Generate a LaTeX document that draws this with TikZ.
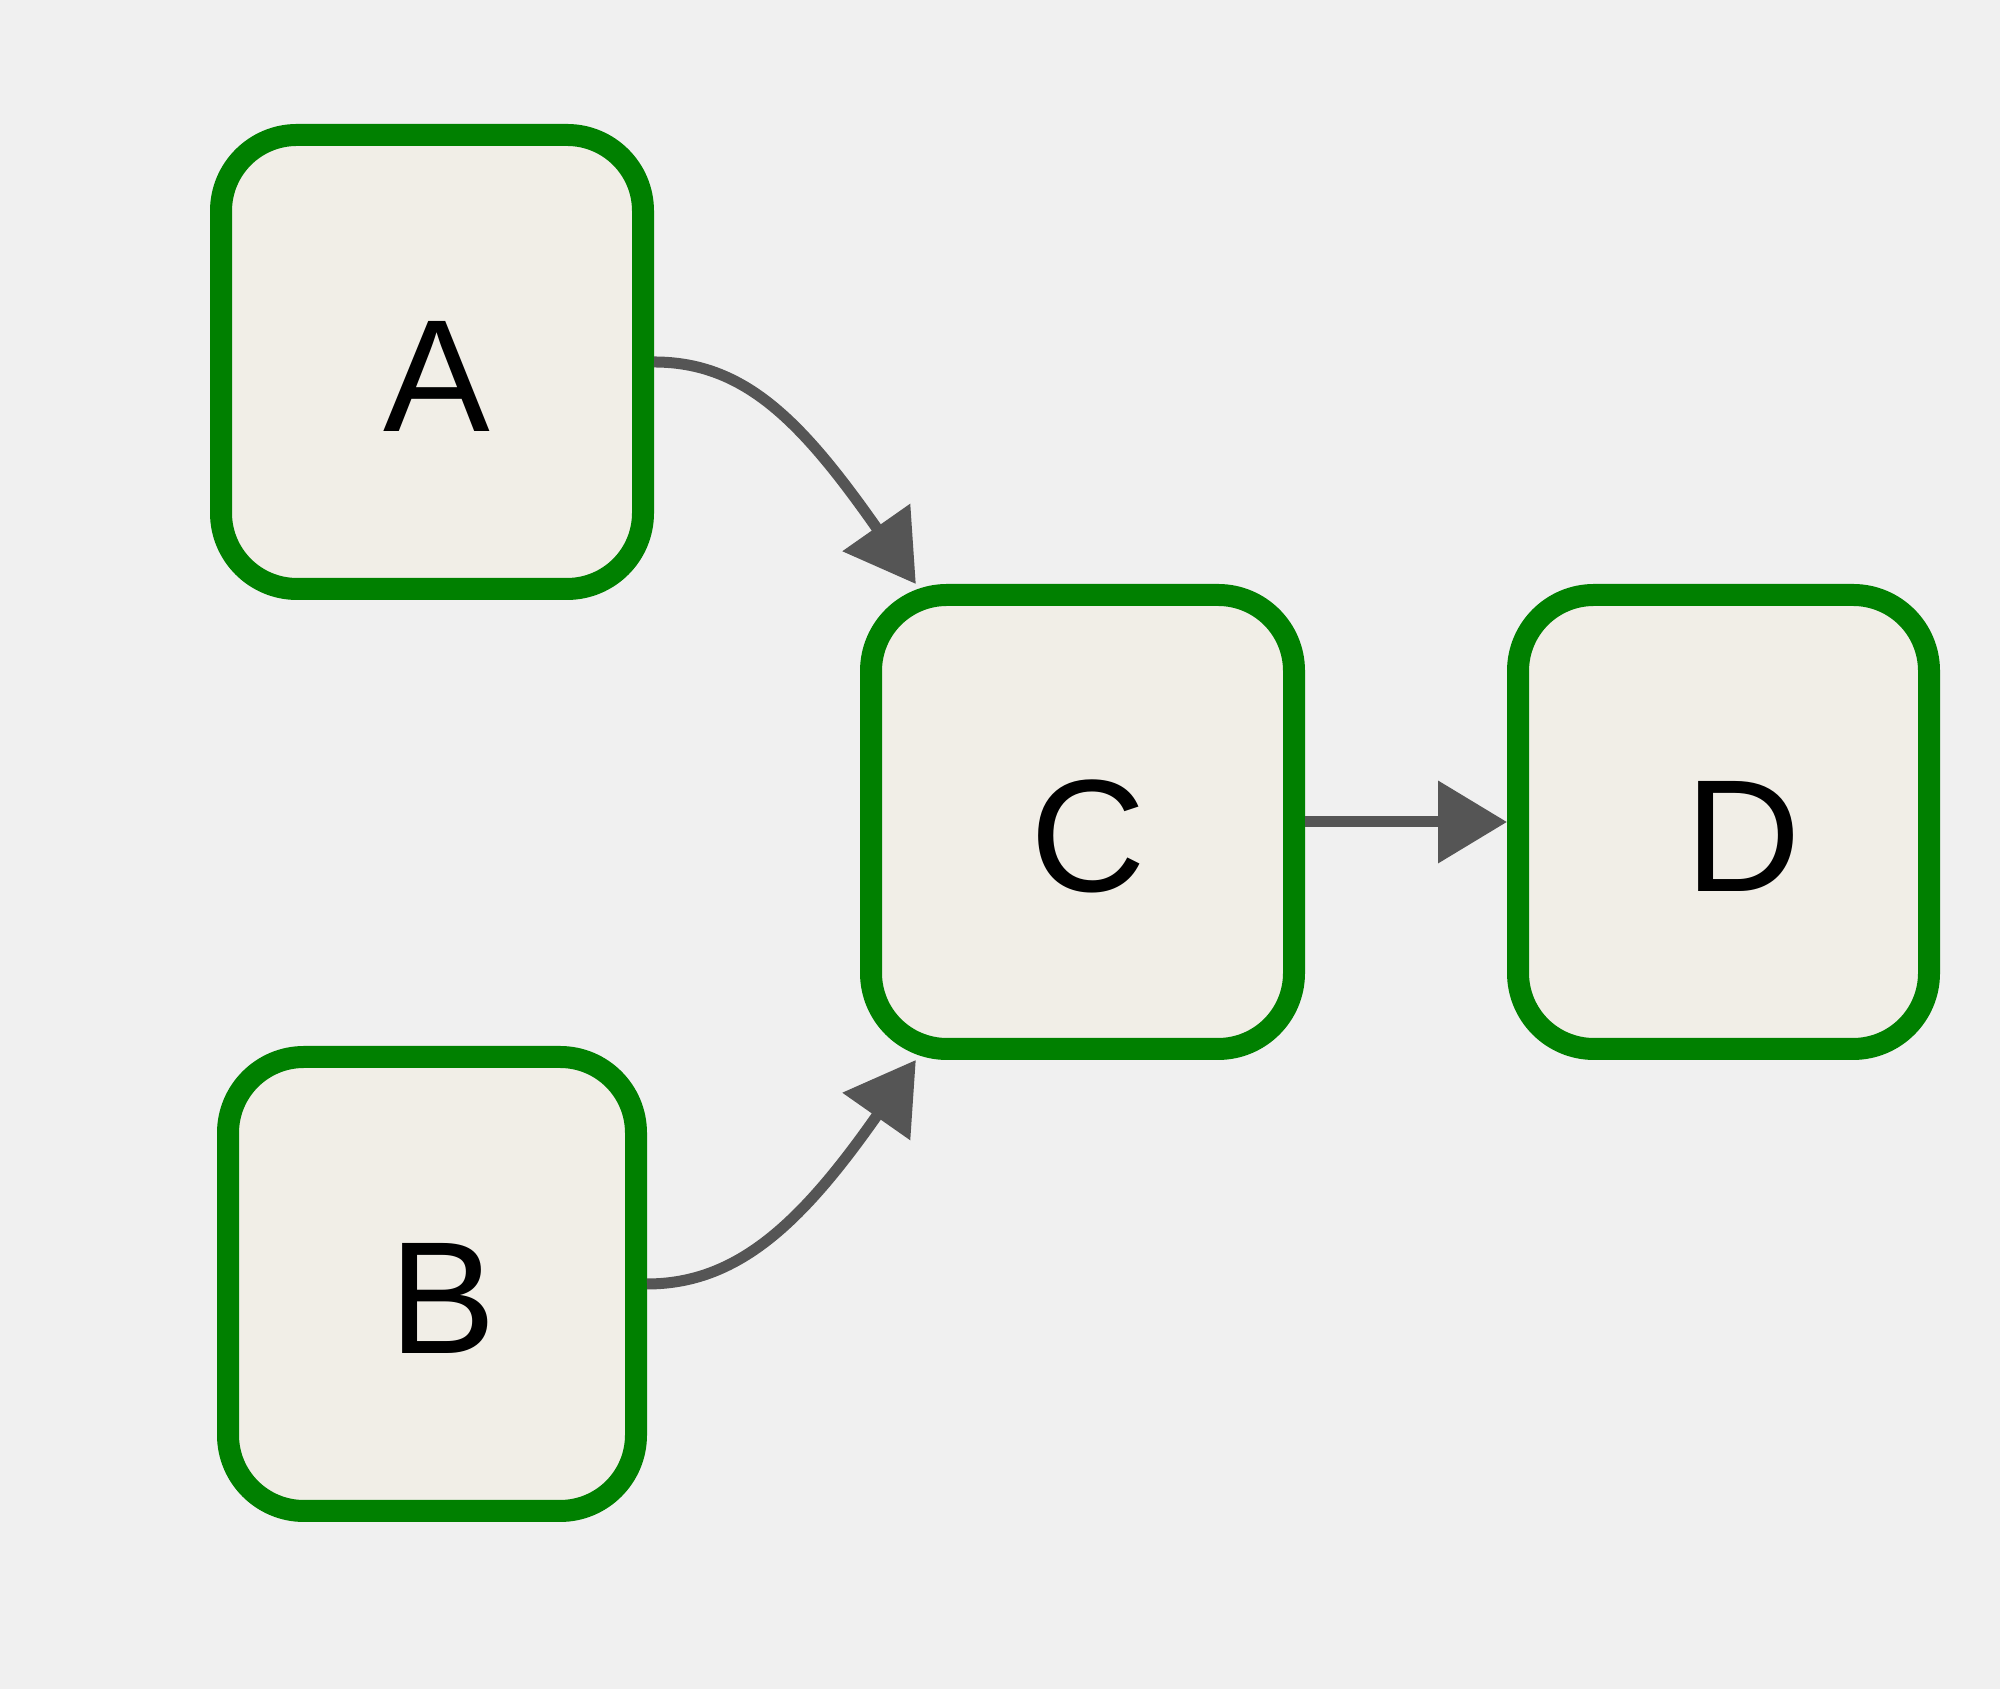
\documentclass[tikz,border=0pt]{standalone}
\usepackage{fontspec}
\setmainfont{Liberation Sans}
\usetikzlibrary{arrows.meta}
\definecolor{bg}{HTML}{F0F0F0}
\definecolor{boxfill}{HTML}{F1EEE7}
\definecolor{boxline}{HTML}{008000}
\definecolor{edge}{HTML}{555555}
\begin{document}
\begin{tikzpicture}[x=0.5pt,y=0.5pt,
  box/.style={draw=boxline, fill=boxfill, line width=11pt, rounded corners=38pt,
    minimum height=227pt, inner sep=0pt,
    font=\fontsize{80pt}{92pt}\selectfont, text height=69.5pt, text depth=0pt},
  link/.style={draw=edge, line width=5.5pt, -{Triangle[length=34.5pt,width=40pt]}}]
\fill[bg] (0,0) rectangle (2000,1689);
\useasboundingbox (0,0) rectangle (2000,1689);
\node[box, minimum width=211pt] (A) at (432,1327) {\hspace*{5pt}A};
\node[box, minimum width=204pt] (B) at (432,405) {\hspace*{11pt}B};
\node[box, minimum width=211.5pt] (C) at (1082.5,867) {\hspace*{6pt}C};
\node[box, minimum width=205.5pt] (D) at (1723.5,867) {\hspace*{20pt}D};
\draw[link] (A.east) .. controls +(90,0) and +(125:200) .. (C.125);
\draw[link] (B.east) .. controls +(90,0) and +(235:200) .. (C.235);
\draw[link] (C.east) -- (D.west);
\end{tikzpicture}
\end{document}
